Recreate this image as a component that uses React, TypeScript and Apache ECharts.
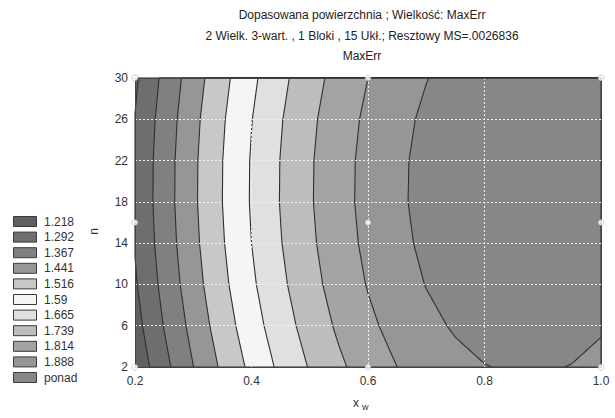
import React, { useEffect, useRef } from "react";
import * as echarts from "echarts";

// ---- data ----
const TITLE_LINES = [
  "Dopasowana powierzchnia ; Wielkość: MaxErr",
  "2 Wielk. 3-wart. , 1 Bloki , 15 Ukł.; Resztowy MS=.0026836",
  "MaxErr",
];
const X_NAME = "x";
const X_NAME_SUB = "w";
const Y_NAME = "n";

// grid of the fitted surface MaxErr(x_w, n)
const X_VALUES = [0.2, 0.25, 0.3, 0.35, 0.4, 0.45, 0.5, 0.55, 0.6, 0.65, 0.7, 0.75, 0.8, 0.85, 0.9, 0.95, 1.0];
const N_VALUES = [2, 6, 10, 14, 18, 22, 26, 30];
const MAXERR_N2 = [1.166, 1.27, 1.366, 1.454, 1.534, 1.606, 1.67, 1.726, 1.774, 1.814, 1.846, 1.87, 1.886, 1.894, 1.894, 1.886, 1.87];
const MAXERR_N6 = [1.191, 1.295, 1.391, 1.479, 1.559, 1.631, 1.695, 1.751, 1.799, 1.839, 1.871, 1.895, 1.911, 1.919, 1.919, 1.911, 1.895];
const MAXERR_N10 = [1.21, 1.314, 1.41, 1.498, 1.578, 1.65, 1.714, 1.77, 1.818, 1.858, 1.89, 1.914, 1.93, 1.938, 1.938, 1.93, 1.914];
const MAXERR_N14 = [1.222, 1.326, 1.422, 1.51, 1.59, 1.662, 1.726, 1.782, 1.83, 1.87, 1.902, 1.926, 1.942, 1.95, 1.95, 1.942, 1.926];
const MAXERR_N18 = [1.228, 1.332, 1.428, 1.516, 1.596, 1.668, 1.732, 1.788, 1.836, 1.876, 1.908, 1.932, 1.948, 1.956, 1.956, 1.948, 1.932];
const MAXERR_N22 = [1.227, 1.331, 1.427, 1.515, 1.595, 1.667, 1.731, 1.787, 1.835, 1.875, 1.907, 1.931, 1.947, 1.955, 1.955, 1.947, 1.931];
const MAXERR_N26 = [1.22, 1.324, 1.42, 1.508, 1.588, 1.66, 1.724, 1.78, 1.828, 1.868, 1.9, 1.924, 1.94, 1.948, 1.948, 1.94, 1.924];
const MAXERR_N30 = [1.206, 1.31, 1.406, 1.494, 1.574, 1.646, 1.71, 1.766, 1.814, 1.854, 1.886, 1.91, 1.926, 1.934, 1.934, 1.926, 1.91];
const MAXERR_ROWS = [MAXERR_N2, MAXERR_N6, MAXERR_N10, MAXERR_N14, MAXERR_N18, MAXERR_N22, MAXERR_N26, MAXERR_N30];

const LEVELS = [1.218, 1.292, 1.367, 1.441, 1.516, 1.59, 1.665, 1.739, 1.814, 1.888];
const LEGEND_LABELS = ["1.218", "1.292", "1.367", "1.441", "1.516", "1.59", "1.665", "1.739", "1.814", "1.888", "ponad"];

// design points of the experiment
const DESIGN_X = [0.2, 0.6, 1.0];
const DESIGN_N = [2, 16, 30];

// ---- styles ----
const BAND_COLORS = ["#606060", "#6e6e6e", "#808080", "#969696", "#c8c8c8", "#f5f5f5", "#e0e0e0", "#bdbdbd", "#a3a3a3", "#969696", "#878787"];
const FONT = '"Liberation Sans", Arial, sans-serif';

const N0 = N_VALUES[0];
const N1 = N_VALUES[N_VALUES.length - 1];

function rowAt(n: number): number[] {
  let i = 0;
  while (i < N_VALUES.length - 2 && n > N_VALUES[i + 1]) i++;
  const t = (n - N_VALUES[i]) / (N_VALUES[i + 1] - N_VALUES[i]);
  const a = MAXERR_ROWS[i];
  const b = MAXERR_ROWS[i + 1];
  return X_VALUES.map((_, j) => a[j] * (1 - t) + b[j] * t);
}

function crossX(v: number[], j: number, L: number): number {
  return X_VALUES[j] + ((L - v[j]) / (v[j + 1] - v[j])) * (X_VALUES[j + 1] - X_VALUES[j]);
}

function span(v: number[], L: number): [number, number] | null {
  const m = v.length;
  let left: number | null = null;
  let right: number | null = null;
  if (v[0] >= L) left = X_VALUES[0];
  else
    for (let j = 0; j < m - 1; j++)
      if (v[j] < L && v[j + 1] >= L) {
        left = crossX(v, j, L);
        break;
      }
  if (left === null) return null;
  if (v[m - 1] >= L) right = X_VALUES[m - 1];
  else
    for (let j = m - 2; j >= 0; j--)
      if (v[j] >= L && v[j + 1] < L) {
        right = crossX(v, j, L);
        break;
      }
  if (right === null) return null;
  return [left, right];
}

type Poly = { pts: [number, number][]; color: string; line: boolean };

function buildPolys(): Poly[] {
  const STEPS = 280;
  const rows: { n: number; v: number[] }[] = [];
  for (let i = 0; i <= STEPS; i++) {
    const n = N1 - (i * (N1 - N0)) / STEPS;
    rows.push({ n, v: rowAt(n) });
  }
  const xmin = X_VALUES[0];
  const xmax = X_VALUES[X_VALUES.length - 1];
  const polys: Poly[] = [
    {
      pts: [
        [xmin, N1],
        [xmin, N0],
        [xmax, N0],
        [xmax, N1],
      ],
      color: BAND_COLORS[0],
      line: false,
    },
  ];
  LEVELS.forEach((L, k) => {
    const left: [number, number][] = [];
    const right: [number, number][] = [];
    rows.forEach((r) => {
      const s = span(r.v, L);
      if (s) {
        left.push([s[0], r.n]);
        right.push([s[1], r.n]);
      }
    });
    polys.push({ pts: left.concat(right.reverse()), color: BAND_COLORS[k + 1], line: true });
  });
  return polys;
}

export default function App() {
  const ref = useRef<HTMLDivElement>(null);
  useEffect(() => {
    if (!ref.current) return;
    const chart = echarts.init(ref.current, undefined, { renderer: "svg" });
    const polys = buildPolys();

    const designData: number[][] = [];
    DESIGN_X.forEach((x) => DESIGN_N.forEach((n) => designData.push([x, n - N0])));

    const legendGraphics: any[] = [];
    LEGEND_LABELS.forEach((lab, i) => {
      const y = 216 + i * 15.6;
      legendGraphics.push({
        type: "rect",
        shape: { x: 13.5, y: y + 0.5, width: 23, height: 10 },
        style: { fill: BAND_COLORS[i], stroke: "#3a3a3a", lineWidth: 1 },
      });
      legendGraphics.push({
        type: "text",
        x: 44,
        y: y + 5.5,
        style: { text: lab, font: `12px ${FONT}`, fill: "#333", textAlign: "left", textVerticalAlign: "middle" },
      });
    });

    const titleGraphics = TITLE_LINES.map((t, i) => ({
      type: "text",
      x: 362,
      y: 15 + i * 20.5,
      style: { text: t, font: `12px ${FONT}`, fill: "#222", textAlign: "center", textVerticalAlign: "middle" },
    }));

    const axisCommon = {
      type: "value" as const,
      z: 5,
      axisLine: { show: true, onZero: false, lineStyle: { color: "#444", width: 1 } },
      axisTick: { show: false },
    };

    chart.setOption({
      animation: false,
      backgroundColor: "#ffffff",
      grid: { left: 135, right: 14, top: 78, bottom: 51 },
      xAxis: [
        {
          ...axisCommon,
          min: 0.2,
          max: 1.0,
          interval: 0.2,
          axisLabel: { formatter: (v: number) => v.toFixed(1), fontSize: 12, color: "#333", margin: 8, fontFamily: FONT },
          splitLine: { show: true, showMinLine: false, showMaxLine: false, lineStyle: { color: "#f2f2f2", type: [2, 2], width: 1 } },
        },
        {
          ...axisCommon,
          position: "top",
          min: 0.2,
          max: 1.0,
          axisLabel: { show: false },
          splitLine: { show: false },
        },
      ],
      yAxis: [
        {
          ...axisCommon,
          min: 0,
          max: N1 - N0,
          interval: 4,
          axisLabel: { formatter: (v: number) => String(v + N0), fontSize: 12, color: "#333", margin: 7, fontFamily: FONT },
          splitLine: { show: true, showMinLine: false, showMaxLine: false, lineStyle: { color: "#f2f2f2", type: [2, 2], width: 1 } },
        },
        {
          ...axisCommon,
          position: "right",
          min: 0,
          max: N1 - N0,
          axisLabel: { show: false },
          splitLine: { show: false },
        },
      ],
      series: [
        {
          type: "custom",
          coordinateSystem: "cartesian2d",
          xAxisIndex: 0,
          yAxisIndex: 0,
          silent: true,
          z: 1,
          data: polys.map((_, i) => [0.6, 14, i]),
          encode: { x: 0, y: 1 },
          renderItem: (params: any, api: any) => {
            const p = polys[params.dataIndex];
            return {
              type: "polygon",
              shape: { points: p.pts.map(([x, n]) => api.coord([x, n - N0])) },
              style: {
                fill: p.color,
                stroke: p.line ? "#2f2f2f" : "none",
                lineWidth: 1.1,
                lineJoin: "round",
              },
            };
          },
        },
        {
          type: "scatter",
          xAxisIndex: 0,
          yAxisIndex: 0,
          z: 10,
          clip: false,
          silent: true,
          symbol: "circle",
          symbolSize: 6,
          itemStyle: { color: "#ffffff", borderColor: "#888", borderWidth: 0.5 },
          data: designData,
        },
      ],
      graphic: [
        ...titleGraphics,
        ...legendGraphics,
        {
          type: "text",
          x: 93.5,
          y: 231.5,
          rotation: Math.PI / 2,
          style: { text: Y_NAME, font: `12px ${FONT}`, fill: "#333", textAlign: "center", textVerticalAlign: "middle" },
        },
        {
          type: "text",
          x: 356,
          y: 403,
          style: { text: X_NAME, font: `12px ${FONT}`, fill: "#333", textAlign: "center", textVerticalAlign: "middle" },
        },
        {
          type: "text",
          x: 362,
          y: 407,
          style: { text: X_NAME_SUB, font: `9px ${FONT}`, fill: "#333", textAlign: "left", textVerticalAlign: "middle" },
        },
      ],
    });
    return () => chart.dispose();
  }, []);
  return <div ref={ref} style={{ width: 615, height: 418, position: "absolute", left: 0, top: 0 }} />;
}
